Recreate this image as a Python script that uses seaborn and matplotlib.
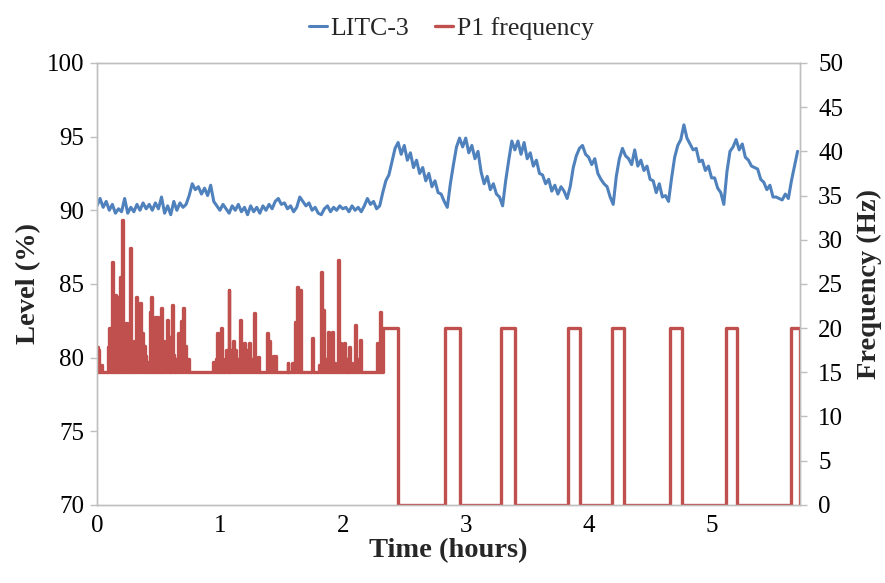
import numpy as np
import pandas as pd
import seaborn as sns
import matplotlib.pyplot as plt

# LITC-3 level (%), logged every 1.5 min (0.025 h) starting at t = 0
sample_hours = 0.025
litc3 = [
    90.3, 90.8, 90.2, 90.6, 90.0, 90.4, 89.8, 90.1, 89.9, 90.8,
    89.8, 90.2, 89.9, 90.4, 90.0, 90.5, 90.1, 90.4, 90.0, 90.5,
    90.1, 90.9, 89.8, 90.3, 89.7, 90.6, 90.0, 90.5, 90.2, 90.4,
    91.0, 91.8, 91.4, 91.6, 91.1, 91.5, 91.0, 91.7, 90.6, 90.3,
    90.0, 90.4, 90.1, 89.8, 90.3, 90.0, 90.4, 89.9, 90.2, 89.7,
    90.3, 89.9, 90.2, 89.8, 90.3, 90.0, 90.4, 90.1, 90.6, 90.8,
    90.4, 90.5, 90.1, 90.3, 89.9, 90.2, 90.9, 90.6, 90.3, 90.5,
    90.0, 90.2, 89.8, 89.7, 90.1, 90.3, 89.9, 90.2, 90.0, 90.3,
    90.1, 90.2, 89.9, 90.3, 90.0, 90.2, 89.9, 90.3, 90.8, 90.4,
    90.6, 90.1, 90.3, 91.2, 92.0, 92.4, 93.3, 94.2, 94.6, 93.8,
    94.4, 93.4, 93.9, 92.9, 93.4, 92.5, 92.9, 92.0, 92.5, 91.6,
    92.0, 91.2, 91.1, 90.6, 90.2, 91.8, 93.1, 94.3, 94.9, 94.3,
    94.9, 93.9, 94.4, 93.5, 94.0, 92.6, 91.8, 92.3, 91.4, 91.8,
    91.1, 90.9, 90.3, 92.0, 93.4, 94.7, 94.1, 94.7, 93.8, 94.6,
    93.5, 93.9, 93.0, 93.4, 92.5, 92.4, 91.8, 92.1, 91.3, 91.7,
    91.1, 91.6, 91.3, 90.8, 91.6, 92.9, 93.7, 94.2, 94.4, 93.8,
    93.6, 93.1, 93.5, 92.5, 92.1, 91.8, 91.6, 90.9, 90.4, 92.3,
    93.5, 94.2, 93.7, 93.5, 93.1, 94.1, 93.0, 93.4, 92.7, 93.0,
    92.1, 92.0, 91.2, 91.8, 90.9, 91.0, 90.6, 92.2, 93.6, 94.4,
    94.8, 95.8, 94.9, 94.5, 94.1, 94.2, 93.3, 93.4, 92.7, 93.0,
    92.2, 92.2, 91.5, 91.2, 90.4, 92.6, 94.0, 94.3, 94.8, 94.1,
    94.5, 93.6, 93.4, 93.0, 92.9, 92.8, 92.1, 91.9, 91.4, 91.7,
    90.9, 90.9, 90.8, 90.7, 91.1, 90.8, 92.0, 93.0, 94.0,
]

# P1 frequency spikes (Hz) while the pump was modulating (first ~2.3 h);
# between spikes the pump sits at its 15 Hz minimum
p1_hours = [
    0.00, 0.01, 0.03, 0.09, 0.10, 0.12, 0.13, 0.15, 0.16, 0.18,
    0.19, 0.20, 0.22, 0.24, 0.25, 0.27, 0.29, 0.30, 0.32, 0.33,
    0.35, 0.37, 0.38, 0.39, 0.41, 0.43, 0.44, 0.45, 0.47, 0.48,
    0.49, 0.50, 0.52, 0.53, 0.54, 0.55, 0.57, 0.59, 0.61, 0.62,
    0.64, 0.66, 0.68, 0.70, 0.72, 0.74,
    0.94, 0.97, 0.98, 1.01, 1.02, 1.05, 1.07, 1.09, 1.11, 1.12,
    1.15, 1.16, 1.18, 1.20, 1.22, 1.24, 1.26, 1.28, 1.30, 1.31,
    1.38, 1.40, 1.43, 1.45, 1.55, 1.59, 1.61, 1.63, 1.65, 1.75,
    1.81, 1.82, 1.84, 1.86, 1.88, 1.91, 1.93, 1.96, 1.98, 2.01,
    2.03, 2.05, 2.07, 2.10, 2.12, 2.14, 2.28, 2.30,
]
p1_hz = [
    17.9, 17.5, 15.8, 17.9, 20.0, 27.5, 18.0, 23.8, 23.5, 17.0,
    25.8, 32.2, 17.5, 20.6, 18.0, 29.1, 16.5, 18.5, 23.5, 21.0,
    22.8, 19.5, 18.0, 16.8, 16.2, 21.8, 23.5, 19.0, 21.3, 17.5,
    21.3, 20.0, 22.3, 17.0, 18.5, 16.5, 20.9, 19.0, 22.6, 17.0,
    16.5, 19.5, 20.8, 22.3, 18.0, 16.5,
    16.2, 16.5, 19.5, 20.0, 16.5, 17.5, 24.3, 17.5, 18.5, 17.5,
    16.5, 20.9, 17.5, 18.3, 17.5, 18.3, 16.5, 21.7, 16.5, 16.7,
    19.5, 18.5, 16.8, 16.8, 16.0, 16.0, 20.7, 24.7, 24.3, 18.9,
    15.8, 26.4, 22.1, 16.5, 19.6, 19.6, 16.0, 27.7, 18.3, 18.3,
    16.5, 17.9, 16.0, 20.4, 16.5, 18.7, 18.3, 21.8,
]
p1_base_hz = 15

# afterwards P1 switches between 20 Hz and off
pulse_on = [2.33, 2.83, 3.29, 3.83, 4.19, 4.66, 5.12, 5.65]
pulse_off = [2.45, 2.95, 3.40, 3.93, 4.29, 4.76, 5.21, 5.72]
pulse_hz = 20

x_max = 5.72

blue = "#4f81bd"
red = "#c0504d"
grey = "#bfbfbf"

sns.set_theme(style="white")
plt.rcParams["font.family"] = ["Liberation Serif", "DejaVu Serif"]

level = pd.DataFrame({"Time": np.arange(len(litc3)) * sample_hours, "Level": litc3})

# each spike is a narrow step up and back to the 15 Hz floor
t, f = [], []
for h, v in zip(p1_hours, p1_hz):
    t += [h, h + 0.008]
    f += [v, p1_base_hz]
for on, off in zip(pulse_on, pulse_off):
    t += [on, off]
    f += [pulse_hz, 0]
freq = pd.DataFrame({"Time": t, "Freq": f})

fig = plt.figure(figsize=(8.85, 5.83), dpi=100)
ax = fig.add_axes([0.1096, 0.134, 0.7944, 0.758])
ax2 = ax.twinx()

sns.lineplot(data=level, x="Time", y="Level", ax=ax, color=blue, lw=2.2,
             sort=False, estimator=None, label="LITC-3", legend=False)
sns.lineplot(data=freq, x="Time", y="Freq", ax=ax2, color=red, lw=2.4,
             sort=False, estimator=None, drawstyle="steps-post",
             label="P1 frequency", legend=False)

ax.set_xlim(0, x_max)
ax.set_ylim(70, 100)
ax2.set_ylim(0, 50)
ax.set_xticks(range(0, 6))
ax.set_yticks(range(70, 101, 5))
ax2.set_yticks(range(0, 51, 5))

for a in (ax, ax2):
    for s in a.spines.values():
        s.set_color(grey)
        s.set_linewidth(1.0)
    a.tick_params(labelsize=18, colors=grey, labelcolor="black", length=5,
                  width=1.0, direction="out")
    a.grid(False)
ax.tick_params(axis="y", pad=4)
ax.tick_params(axis="x", pad=2)
ax2.tick_params(axis="y", pad=8)

ax.set_xlabel("Time (hours)", fontsize=20.5, fontweight="bold", labelpad=1)
ax.set_ylabel("Level (%)", fontsize=20.5, fontweight="bold", labelpad=4)
ax2.set_ylabel("Frequency (Hz)", fontsize=20.5, fontweight="bold", labelpad=10)

h1, l1 = ax.get_legend_handles_labels()
h2, l2 = ax2.get_legend_handles_labels()
fig.legend(h1 + h2, l1 + l2, loc="upper center", bbox_to_anchor=(0.51, 1.01),
           ncol=2, frameon=False, fontsize=18.5, handlelength=0.7,
           handletextpad=0.15, columnspacing=1.0)

fig.savefig("out.png", dpi=100)
